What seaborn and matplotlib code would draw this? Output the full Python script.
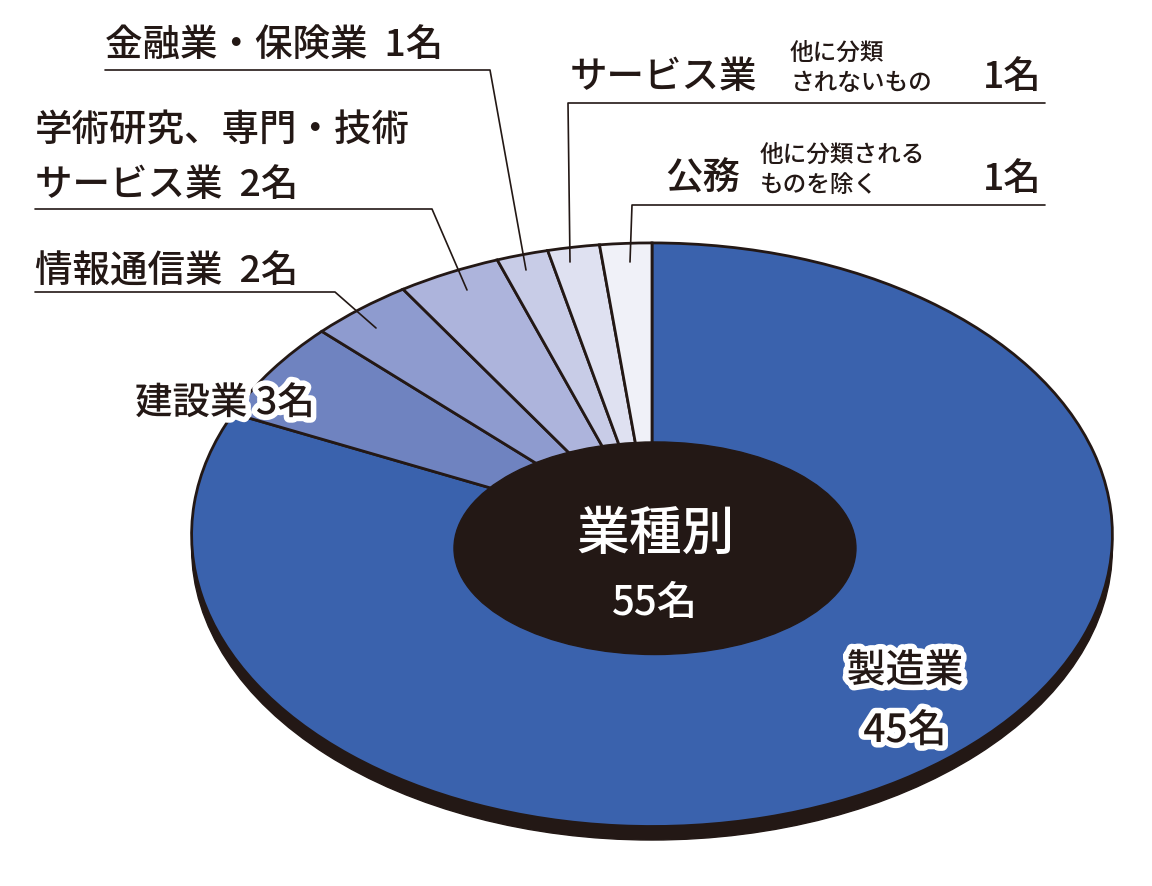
import matplotlib.pyplot as plt
import matplotlib.patheffects as pe
from matplotlib.patches import Ellipse
from matplotlib.lines import Line2D
import seaborn as sns

sns.set_theme(style="white")
plt.rcParams['font.family'] = ['Noto Sans CJK JP', 'DejaVu Sans']
plt.rcParams['font.weight'] = 'medium'

# 業種別の人数
categories = ["製造業", "建設業", "情報通信業", "学術研究、専門・技術サービス業",
              "金融業・保険業", "サービス業", "公務"]
counts = [45, 3, 2, 2, 1, 1, 1]
colors = ["#3a62ad", "#6f83c0", "#8e9bcf", "#adb4dc", "#c8cce7", "#dfe1f1", "#f0f1f8"]

W, H = 1152, 886
fig = plt.figure(figsize=(W / 100, H / 100), dpi=100)

cx, cy, rx, ry = 652, 542, 465, 302
ax = fig.add_axes([(cx - rx) / W, (H - cy - ry) / H, 2 * rx / W, 2 * ry / H])

# 下の影
ax.add_patch(Ellipse((0, -14 / ry), 2.0, 2.0, color="#231815", zorder=0))
ax.pie(counts, colors=colors, startangle=90, counterclock=False, radius=1,
       wedgeprops=dict(edgecolor="#231815", linewidth=2))
ax.add_patch(Ellipse((3 / rx, -14 / ry), 2 * 203 / rx, 2 * 110 / ry, color="#231815", zorder=5))
ax.set_aspect("auto")
ax.set_xlim(-1.01, 1.01)
ax.set_ylim(-1.06, 1.01)


def fx(x):
    return x / W


def fy(y):
    return 1 - y / H


def txt(x, y, s, size, ha="left", va="baseline", color="#231815", stroke=False, **kw):
    t = fig.text(fx(x), fy(y), s, fontsize=size, ha=ha, va=va, color=color, **kw)
    if stroke:
        t.set_path_effects([pe.withStroke(linewidth=8, foreground="white")])
    return t


def leader(pts):
    fig.add_artist(Line2D([fx(p[0]) for p in pts], [fy(p[1]) for p in pts],
                          color="#231815", lw=1.2))


total = sum(counts)
txt(655, 550, "業種別", 38, ha="center", color="white")
txt(655, 615, f"{total}名", 29, ha="center", color="white")

txt(905, 682, categories[0], 28, ha="center", stroke=True)
txt(905, 742, f"{counts[0]}名", 28, ha="center", stroke=True)
txt(135, 414, f"{categories[1]} {counts[1]}名", 27, stroke=True)

txt(35, 283, f"{categories[2]}  {counts[2]}名", 27)
leader([(35, 292), (335, 292), (376, 328)])

txt(35, 142, "学術研究、専門・技術", 27)
txt(35, 196, f"サービス業  {counts[3]}名", 27)
leader([(35, 209), (432, 209), (467, 290)])

txt(105, 57, f"{categories[4]}  {counts[4]}名", 27)
leader([(105, 70), (490, 70), (526, 270)])

txt(570, 88, categories[5], 27)
txt(790, 60, "他に分類", 17)
txt(790, 90, "されないもの", 17)
txt(1042, 88, f"{counts[5]}名", 27, ha="right")
leader([(1045, 103), (568, 103), (570, 262)])

txt(665, 190, categories[6], 27)
txt(760, 162, "他に分類される", 17)
txt(760, 192, "ものを除く", 17)
txt(1042, 190, f"{counts[6]}名", 27, ha="right")
leader([(1045, 205), (632, 205), (630, 262)])

fig.savefig("out.png", dpi=100, facecolor="white")
